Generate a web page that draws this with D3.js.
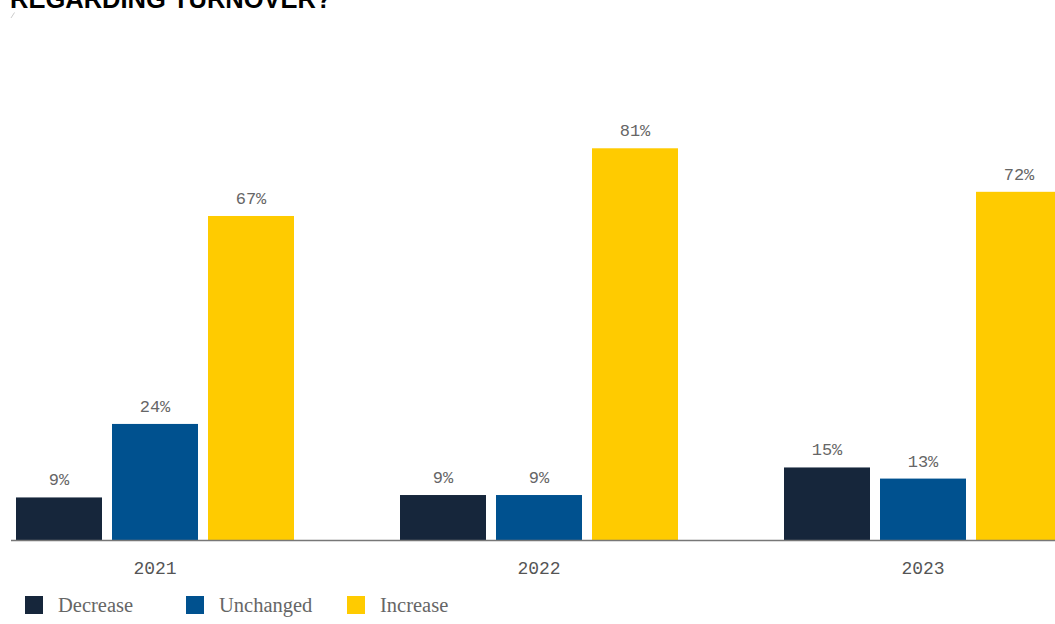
<!DOCTYPE html>
<html>
<head>
<meta charset="utf-8">
<script src="https://cdn.jsdelivr.net/npm/d3@7"></script>
<style>
  html, body { margin: 0; padding: 0; background: #fff; overflow: hidden; }
  svg { display: block; }
</style>
</head>
<body>
<svg id="chart" width="1055" height="624"></svg>
<script>
const years = ["2021", "2022", "2023"];
const seriesNames = ["Decrease", "Unchanged", "Increase"];
const decrease = [8.8, 9.3, 15];
const unchanged = [24, 9.3, 12.7];
const increase = [67, 81, 72];
const colors = ["#16263b", "#00518f", "#ffcb00"];
const titleText = "REGARDING TURNOVER?";

const seriesValues = [decrease, unchanged, increase];
const rows = years.map((y, i) => ({
  year: y,
  values: seriesNames.map((s, j) => ({ series: s, value: seriesValues[j][i] }))
}));

const svg = d3.select("#chart");
const baseY = 540;

const x0 = d3.scaleBand().domain(years).range([16, 1062]).paddingInner(106 / 384).paddingOuter(0);
const x1 = d3.scaleBand().domain(seriesNames).range([0, x0.bandwidth()]).paddingInner(10 / 96).paddingOuter(0);
const y = d3.scaleLinear().domain([0, 100]).range([baseY, 56.4]);
const color = d3.scaleOrdinal().domain(seriesNames).range(colors);

// title (clipped at top, as in the reference)
svg.append("text")
  .attr("x", 10).attr("y", 8)
  .attr("font-family", "Liberation Sans, Arial, sans-serif")
  .attr("font-weight", "bold")
  .attr("font-size", 25.5)
  .attr("fill", "#000")
  .text(titleText);

svg.append("line")
  .attr("x1", 11).attr("y1", 18).attr("x2", 14.5).attr("y2", 12.5)
  .attr("stroke", "#ccc").attr("stroke-width", 1);

const groups = svg.append("g").selectAll("g")
  .data(rows).join("g")
  .attr("transform", d => `translate(${x0(d.year)},0)`);

groups.selectAll("rect")
  .data(d => d.values).join("rect")
  .attr("x", d => x1(d.series))
  .attr("y", d => y(d.value))
  .attr("width", x1.bandwidth())
  .attr("height", d => baseY - y(d.value))
  .attr("fill", d => color(d.series));

groups.selectAll("text.val")
  .data(d => d.values).join("text")
  .attr("class", "val")
  .attr("x", d => x1(d.series) + x1.bandwidth() / 2)
  .attr("y", d => y(d.value) - 12)
  .attr("text-anchor", "middle")
  .attr("font-family", "Liberation Mono, monospace")
  .attr("font-size", 17)
  .attr("fill", "#666")
  .text(d => Math.round(d.value) + "%");

// x axis
const xAxis = d3.axisBottom(x0).tickSize(0).tickPadding(0);
const axisG = svg.append("g").attr("transform", `translate(0,${baseY})`).call(xAxis);
axisG.select(".domain").remove();
axisG.selectAll("text")
  .attr("dy", null)
  .attr("y", 34)
  .attr("font-family", "Liberation Mono, monospace")
  .attr("font-size", 18)
  .attr("fill", "#555");

svg.append("line")
  .attr("x1", 11).attr("x2", 1055)
  .attr("y1", baseY + 0.5).attr("y2", baseY + 0.5)
  .attr("stroke", "#777").attr("stroke-width", 1.5);

// legend
const legendX = [25, 186, 347];
const legend = svg.append("g").selectAll("g")
  .data(seriesNames).join("g")
  .attr("transform", (d, i) => `translate(${legendX[i]},596)`);
legend.append("rect")
  .attr("width", 18).attr("height", 18)
  .attr("fill", d => color(d));
legend.append("text")
  .attr("x", 33).attr("y", 16)
  .attr("font-family", "Liberation Serif, 'Times New Roman', serif")
  .attr("font-size", 20.5)
  .attr("fill", "#666")
  .text(d => d);
</script>
</body>
</html>
